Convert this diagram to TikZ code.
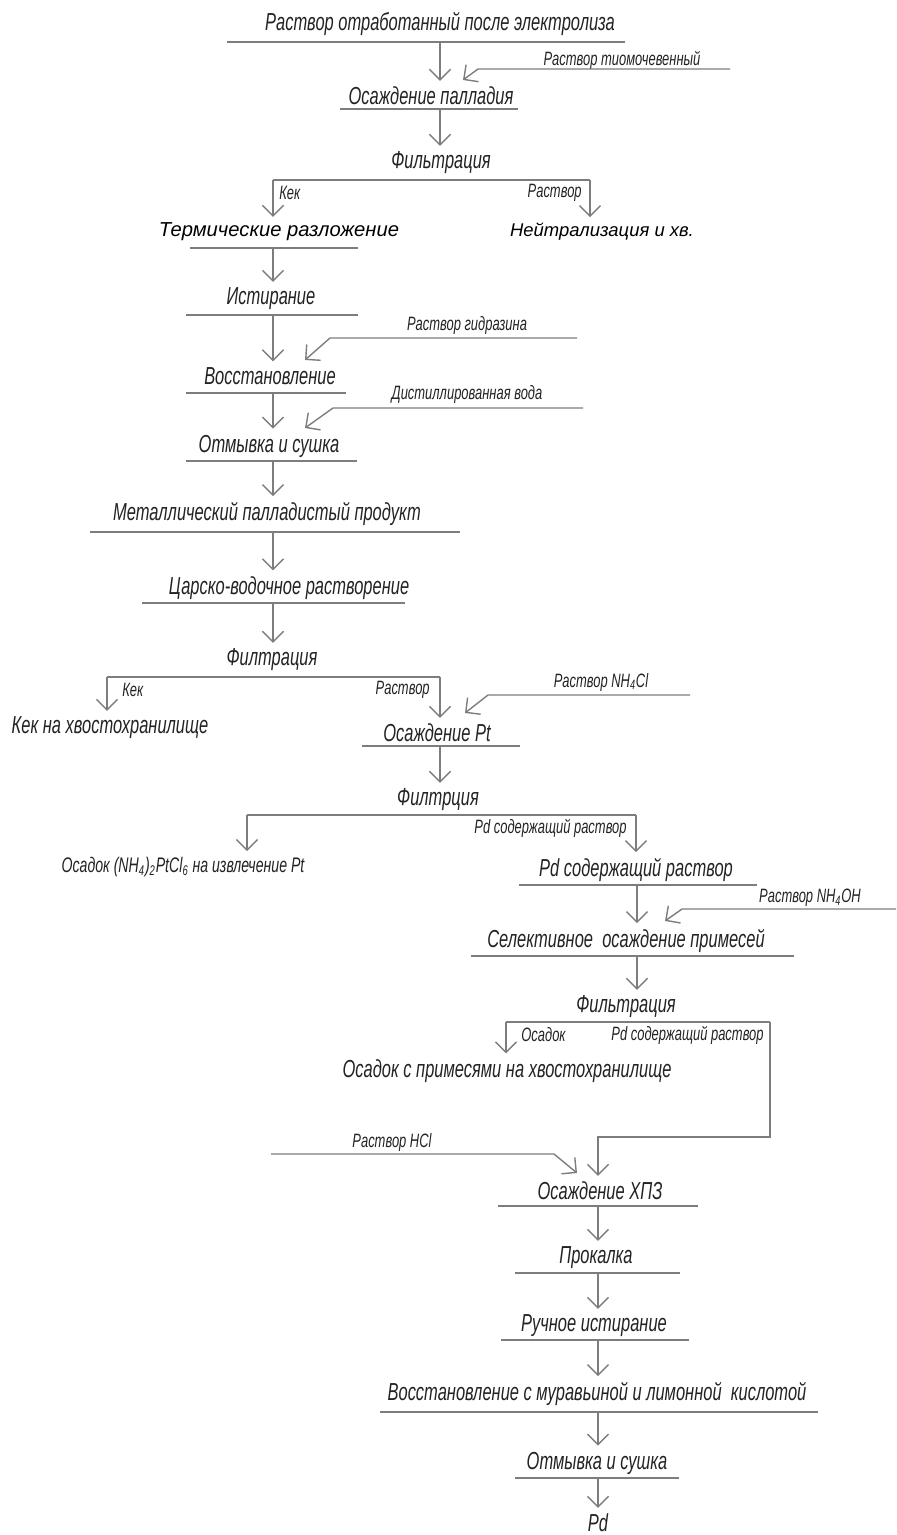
\documentclass[tikz,border=0pt]{standalone}
\usepackage{fontspec}
\setmainfont{Liberation Sans}
\newfontfamily\gostfont[FakeStretch=0.67]{Liberation Sans}
\usetikzlibrary{arrows.meta}
\definecolor{lngray}{RGB}{125,125,125}
\definecolor{txtgray}{RGB}{35,35,35}

\begin{document}
\begin{tikzpicture}[
    x=0.02cm, y=-0.02cm,
    stepbox/.style={font=\gostfont\itshape\fontsize{14pt}{16pt}\selectfont, text=txtgray, inner sep=1pt, outer ysep=2.5pt},
    plainbox/.style={font=\itshape\fontsize{11.5pt}{14pt}\selectfont, text=black, inner sep=1pt, outer ysep=2.5pt},
    feedlbl/.style={font=\gostfont\itshape\fontsize{11pt}{13pt}\selectfont, text=txtgray, inner sep=0pt},
    uline/.style={draw=lngray, line width=1.2pt},
    branch/.style={draw=lngray, line width=0.9pt},
    flow/.style={draw=lngray, line width=0.8pt, -{Straight Barb[length=6pt, width=12pt]}},
]
\useasboundingbox (0,0) rectangle (896,1535);

% spent electrolyte -> Pd precipitation
\node[stepbox] (rastvor) at (440,24) {Раствор отработанный после электролиза};
\draw[uline] (227,42) -- (625,42);
\coordinate (rastvorU) at (440,42);
\node[feedlbl] (tiolbl) at (622,60) {Раствор тиомочевенный};
\coordinate (tioIn) at (730,69);
\coordinate (tioKnee) at (478,69);
\coordinate (tioTip) at (463,80);
\node[stepbox] (osPd) at (431,96) {Осаждение палладия};
\draw[uline] (340,109) -- (518,109);
\coordinate (osPdU) at (440,109);
\draw[flow] (rastvorU) -- (rastvorU |- osPd.north);
\draw[flow] (tioIn) -- (tioKnee) -- (tioTip);

% first filtration
\node[stepbox] (filt1) at (441,163) {Фильтрация};
\draw[flow] (osPdU) -- (osPdU |- filt1.north);
\coordinate (filt1L) at (273,180);
\coordinate (filt1R) at (590,180);
\draw[branch] (filt1L) -- (filt1R);
\node[feedlbl, anchor=west] (kek1) at (279,193) {Кек};
\node[feedlbl, anchor=east] (rast1) at (582,193) {Раствор};
\node[plainbox] (termo) at (279,232) {Термические разложение};
\node[plainbox, font=\itshape\fontsize{10.5pt}{13pt}\selectfont] (neutr) at (602,232) {Нейтрализация и хв.};
\draw[flow] (filt1L) -- (filt1L |- termo.north);
\draw[flow] (filt1R) -- (filt1R |- neutr.north);
\draw[uline] (190,248) -- (358,248);
\coordinate (termoU) at (273,248);

% grinding, reduction, washing
\node[stepbox] (istir) at (271,299) {Истирание};
\draw[flow] (termoU) -- (termoU |- istir.north);
\draw[uline] (186,315) -- (358,315);
\coordinate (istirU) at (273,315);
\node[feedlbl] (gidrlbl) at (467,325) {Раствор гидразина};
\coordinate (gidrIn) at (577,338);
\coordinate (gidrKnee) at (330,338);
\coordinate (gidrTip) at (305,360);
\node[stepbox] (vosst) at (270,376) {Восстановление};
\draw[flow] (istirU) -- (istirU |- vosst.north);
\draw[flow] (gidrIn) -- (gidrKnee) -- (gidrTip);
\draw[uline] (186,393) -- (346,393);
\coordinate (vosstU) at (273,393);
\node[feedlbl] (distlbl) at (467,394) {Дистиллированная вода};
\coordinate (distIn) at (583,408);
\coordinate (distKnee) at (333,408);
\coordinate (distTip) at (305,428);
\node[stepbox] (otmyv) at (269,446) {Отмывка и сушка};
\draw[flow] (vosstU) -- (vosstU |- otmyv.north);
\draw[flow] (distIn) -- (distKnee) -- (distTip);
\draw[uline] (186,461) -- (357,461);
\coordinate (otmyvU) at (273,461);

% metallic product, aqua regia
\node[stepbox] (metal) at (267,514) {Металлический палладистый продукт};
\draw[flow] (otmyvU) -- (otmyvU |- metal.north);
\draw[uline] (90,532) -- (460,532);
\coordinate (metalU) at (273,532);
\node[stepbox] (carsk) at (289,588) {Царско-водочное растворение};
\draw[flow] (metalU) -- (metalU |- carsk.north);
\draw[uline] (142,603) -- (405,603);
\coordinate (carskU) at (273,603);

% second filtration
\node[stepbox] (filt2) at (272,660) {Филтрация};
\draw[flow] (carskU) -- (carskU |- filt2.north);
\coordinate (filt2L) at (107,677);
\coordinate (filt2R) at (440,677);
\draw[branch] (filt2L) -- (filt2R);
\node[feedlbl, anchor=west] (kek2) at (122,690) {Кек};
\node[feedlbl, anchor=east] (rast2) at (430,690) {Раствор};
\node[stepbox] (kekTail) at (110,728) {Кек на хвостохранилище};
\draw[flow] (filt2L) -- (filt2L |- kekTail.north);
\node[feedlbl] (nhcllbl) at (601,682) {Раствор NH\textsubscript{4}Cl};
\coordinate (nhclIn) at (690,695);
\coordinate (nhclKnee) at (488,695);
\coordinate (nhclTip) at (465,713);
\node[stepbox] (osPt) at (437,733) {Осаждение Pt};
\draw[flow] (filt2R) -- (filt2R |- osPt.north);
\draw[flow] (nhclIn) -- (nhclKnee) -- (nhclTip);
\draw[uline] (362,746) -- (520,746);
\coordinate (osPtU) at (440,746);

% third filtration
\node[stepbox] (filt3) at (438,800) {Филтрция};
\draw[flow] (osPtU) -- (osPtU |- filt3.north);
\coordinate (filt3L) at (247,815);
\coordinate (filt3R) at (636,815);
\draw[branch] (filt3L) -- (filt3R);
\node[feedlbl, anchor=east] (pdlbl1) at (627,828) {Pd содержащий раствор};
\node[stepbox, font=\gostfont\itshape\fontsize{12pt}{14pt}\selectfont] (osPtCl) at (183,867) {Осадок (NH\textsubscript{4})\textsubscript{2}PtCl\textsubscript{6} на извлечение Pt};
\node[stepbox] (pdsol) at (636,870) {Pd содержащий раствор};
\draw[flow] (filt3L) -- (filt3L |- osPtCl.north);
\draw[flow] (filt3R) -- (filt3R |- pdsol.north);
\draw[uline] (519,885) -- (757,885);
\coordinate (pdsolU) at (637,885);

% selective precipitation of impurities
\node[feedlbl] (nhohlbl) at (810,898) {Раствор NH\textsubscript{4}OH};
\coordinate (nhohIn) at (896,909);
\coordinate (nhohKnee) at (682,909);
\coordinate (nhohTip) at (665,921);
\node[stepbox] (selekt) at (626,941) {Селективное~~осаждение примесей};
\draw[flow] (pdsolU) -- (pdsolU |- selekt.north);
\draw[flow] (nhohIn) -- (nhohKnee) -- (nhohTip);
\draw[uline] (471,956) -- (794,956);
\coordinate (selektU) at (637,956);

% fourth filtration
\node[stepbox] (filt4) at (626,1007) {Фильтрация};
\draw[flow] (selektU) -- (selektU |- filt4.north);
\coordinate (filt4L) at (506,1022);
\coordinate (filt4R) at (770,1022);
\draw[branch] (filt4L) -- (filt4R);
\node[feedlbl, anchor=west] (osadlbl) at (521,1035) {Осадок};
\node[feedlbl, anchor=east] (pdlbl2) at (764,1035) {Pd содержащий раствор};
\node[stepbox] (osadPrim) at (507,1071) {Осадок с примесями на хвостохранилище};
\draw[flow] (filt4L) -- (filt4L |- osadPrim.north);
\coordinate (loopA) at (770,1137);
\coordinate (loopB) at (598,1137);

% chloropalladate precipitation
\node[feedlbl] (hcllbl) at (392,1142) {Раствор HCl};
\coordinate (hclIn) at (271,1154);
\coordinate (hclKnee) at (554,1154);
\coordinate (hclTip) at (577,1173);
\node[stepbox] (hpz) at (600,1191) {Осаждение ХПЗ};
\draw[flow] (filt4R) -- (loopA) -- (loopB) -- (loopB |- hpz.north);
\draw[flow] (hclIn) -- (hclKnee) -- (hclTip);
\draw[uline] (498,1206) -- (698,1206);
\coordinate (hpzU) at (598,1206);

% calcination to Pd
\node[stepbox] (prok) at (596,1258) {Прокалка};
\draw[flow] (hpzU) -- (hpzU |- prok.north);
\draw[uline] (515,1273) -- (680,1273);
\coordinate (prokU) at (598,1273);
\node[stepbox] (ruch) at (594,1326) {Ручное истирание};
\draw[flow] (prokU) -- (prokU |- ruch.north);
\draw[uline] (501,1340) -- (689,1340);
\coordinate (ruchU) at (598,1340);
\node[stepbox] (vosst2) at (597,1394) {Восстановление с муравьиной и лимонной~~кислотой};
\draw[flow] (ruchU) -- (ruchU |- vosst2.north);
\draw[uline] (380,1412) -- (818,1412);
\coordinate (vosst2U) at (598,1412);
\node[stepbox] (otmyv2) at (597,1463) {Отмывка и сушка};
\draw[flow] (vosst2U) -- (vosst2U |- otmyv2.north);
\draw[uline] (515,1478) -- (679,1478);
\coordinate (otmyv2U) at (598,1478);
\node[stepbox] (pd) at (598,1523) {Pd};
\draw[flow] (otmyv2U) -- (otmyv2U |- pd.north);
\end{tikzpicture}
\end{document}
